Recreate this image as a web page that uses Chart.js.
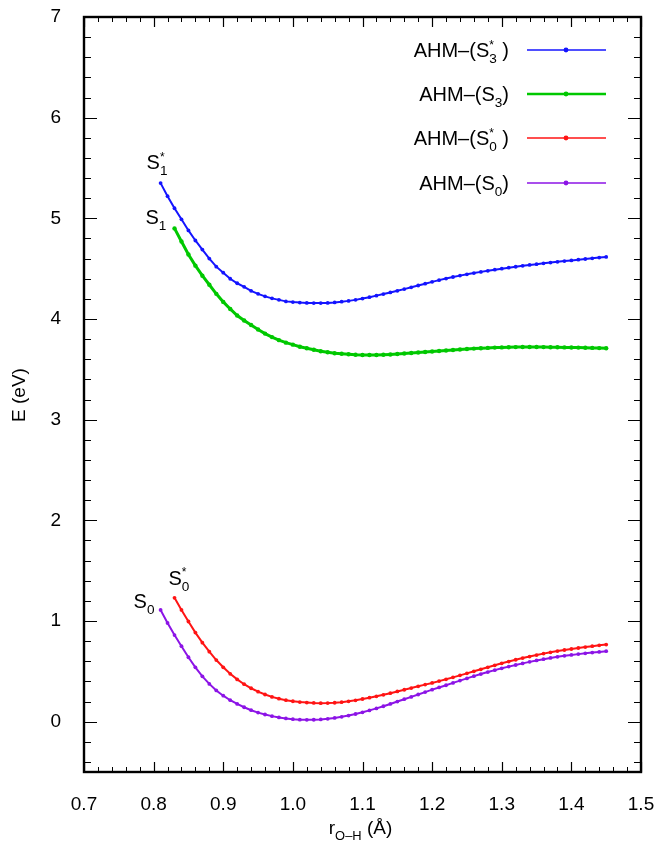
<!DOCTYPE html>
<html>
<head>
<meta charset="utf-8">
<script src="https://cdn.jsdelivr.net/npm/chart.js@4.4.1/dist/chart.umd.min.js"></script>
<style>
html,body{margin:0;padding:0;background:#fff;}
canvas{display:block;}
</style>
</head>
<body>
<canvas id="c" width="658" height="842"></canvas>
<script>
// ---------- DATA ----------
const rOH = [0.81,0.82,0.83,0.84,0.85,0.86,0.87,0.88,0.89,0.90,
             0.91,0.92,0.93,0.94,0.95,0.96,0.97,0.98,0.99,1.00,
             1.01,1.02,1.03,1.04,1.05,1.06,1.07,1.08,1.09,1.10,
             1.11,1.12,1.13,1.14,1.15,1.16,1.17,1.18,1.19,1.20,
             1.21,1.22,1.23,1.24,1.25,1.26,1.27,1.28,1.29,1.30,
             1.31,1.32,1.33,1.34,1.35,1.36,1.37,1.38,1.39,1.40,
             1.41,1.42,1.43,1.44,1.45];

const eS3star = [5.35,5.22,5.10,4.99,4.88,4.78,4.69,4.60,4.52,4.46,
                 4.40,4.355,4.32,4.28,4.25,4.225,4.205,4.19,4.175,4.168,
                 4.163,4.16,4.158,4.158,4.16,4.165,4.172,4.18,4.19,4.203,
                 4.217,4.232,4.248,4.264,4.28,4.297,4.315,4.333,4.351,4.369,
                 4.386,4.402,4.417,4.431,4.444,4.456,4.468,4.479,4.49,4.50,
                 4.51,4.519,4.528,4.537,4.545,4.553,4.561,4.568,4.575,4.582,
                 4.589,4.596,4.603,4.61,4.617];

const eS3 = [null,null,4.90,4.77,4.64,4.53,4.43,4.34,4.25,4.17,
             4.10,4.035,3.985,3.94,3.895,3.855,3.82,3.79,3.765,3.745,
             3.725,3.71,3.695,3.68,3.67,3.66,3.655,3.65,3.645,3.643,
             3.642,3.643,3.645,3.648,3.652,3.657,3.662,3.667,3.672,3.677,
             3.682,3.687,3.692,3.697,3.702,3.706,3.71,3.713,3.716,3.718,
             3.72,3.721,3.722,3.722,3.722,3.721,3.72,3.719,3.718,3.717,
             3.716,3.715,3.713,3.711,3.71];

const eS0star = [null,null,1.23,1.11,0.995,0.885,0.785,0.695,0.612,0.54,
                 0.475,0.42,0.372,0.332,0.298,0.27,0.246,0.228,0.213,0.203,
                 0.195,0.19,0.186,0.184,0.185,0.188,0.194,0.202,0.212,0.225,
                 0.238,0.252,0.267,0.283,0.30,0.317,0.334,0.351,0.368,0.385,
                 0.403,0.421,0.44,0.46,0.48,0.50,0.52,0.54,0.56,0.58,
                 0.597,0.615,0.632,0.647,0.662,0.676,0.689,0.701,0.712,0.722,
                 0.732,0.741,0.75,0.758,0.766];

const eS0 = [1.11,0.98,0.86,0.75,0.64,0.54,0.45,0.375,0.31,0.258,
             0.213,0.176,0.143,0.114,0.09,0.071,0.055,0.042,0.032,0.025,
             0.02,0.018,0.019,0.022,0.028,0.037,0.048,0.061,0.076,0.093,
             0.112,0.132,0.153,0.176,0.20,0.223,0.246,0.27,0.294,0.318,
             0.34,0.362,0.385,0.408,0.43,0.452,0.473,0.493,0.512,0.53,
             0.547,0.563,0.579,0.594,0.608,0.621,0.633,0.644,0.654,0.663,
             0.671,0.679,0.686,0.693,0.70];

const seriesNames  = ['AHM–(S_3^* )', 'AHM–(S_3)', 'AHM–(S_0^* )', 'AHM–(S_0)'];
const curveLabels  = ['S_1^*', 'S_1', 'S_0^*', 'S_0'];
const xTickValues  = [0.7,0.8,0.9,1.0,1.1,1.2,1.3,1.4,1.5];
const yTickValues  = [0,1,2,3,4,5,6,7];
const xTitle = 'r_{O–H} (Å)';
const yTitle = 'E (eV)';

// ---------- STYLE ----------
const colors = ['#1414ff', '#00c800', '#ff1414', '#8c14e6'];
const lineWidths = [2, 3, 2, 2];
const FONT = '"Liberation Sans", Arial, Helvetica, sans-serif';

function toPoints(arr){
  const pts = [];
  for (let i = 0; i < rOH.length; i++) if (arr[i] !== null) pts.push({x: rOH[i], y: arr[i]});
  return pts;
}
const allSeries = [eS3star, eS3, eS0star, eS0];

// rich text: _x subscript, ^x superscript (stacked over preceding subscript)
function parseRich(s){
  const out = []; let i = 0;
  while (i < s.length){
    const c = s[i];
    if (c === '_' || c === '^'){
      let t;
      if (s[i+1] === '{'){ const j = s.indexOf('}', i); t = s.slice(i+2, j); i = j+1; }
      else { t = s[i+1]; i += 2; }
      out.push({t, kind: c === '_' ? 'sub' : 'sup'});
    } else {
      let j = i; while (j < s.length && s[j] !== '_' && s[j] !== '^') j++;
      out.push({t: s.slice(i, j), kind: 'n'}); i = j;
    }
  }
  return out;
}
function richLayout(ctx, s, size){
  const parts = parseRich(s); let x = 0; let subX = null, subW = 0;
  const items = [];
  for (const p of parts){
    let fs = size, dy = 0, px = x;
    if (p.kind === 'sub'){ fs = size*0.68; dy = size*0.30; }
    if (p.kind === 'sup'){ fs = size*0.6; dy = -size*0.42; }
    ctx.font = fs + 'px ' + FONT;
    const w = ctx.measureText(p.t).width;
    if (p.kind === 'sup' && subX !== null){
      px = subX; items.push({t:p.t, fs, dy, x:px});
      x = subX + Math.max(subW, w); subX = null;
    } else {
      items.push({t:p.t, fs, dy, x:px});
      if (p.kind === 'sub'){ subX = px; subW = w; } else subX = null;
      x = px + w;
    }
  }
  return {items, width: x};
}
function drawRich(ctx, s, x, y, size, align){
  const L = richLayout(ctx, s, size);
  let x0 = x;
  if (align === 'right') x0 = x - L.width; else if (align === 'center') x0 = x - L.width/2;
  ctx.fillStyle = '#000'; ctx.textBaseline = 'alphabetic'; ctx.textAlign = 'left';
  for (const it of L.items){
    ctx.font = it.fs + 'px ' + FONT;
    ctx.fillText(it.t, x0 + it.x, y + it.dy);
  }
}

const framePlugin = {
  id: 'frame',
  afterDatasetsDraw(chart){
    const ctx = chart.ctx, a = chart.chartArea, xs = chart.scales.x, ys = chart.scales.y;
    ctx.save();
    ctx.strokeStyle = '#000';
    // minor ticks
    ctx.lineWidth = 1;
    ctx.beginPath();
    for (let k = 0; k <= 40; k++){
      const v = 0.7 + k*0.02;
      if (k % 5 === 0) continue;
      const p = Math.round(xs.getPixelForValue(v)) + 0.5;
      ctx.moveTo(p, a.bottom); ctx.lineTo(p, a.bottom - 5);
      ctx.moveTo(p, a.top); ctx.lineTo(p, a.top + 5);
    }
    for (let k = 0; k <= 37; k++){
      const v = -0.4 + k*0.2;
      if (Math.abs(v - Math.round(v)) < 1e-6) continue;
      const p = Math.round(ys.getPixelForValue(v)) + 0.5;
      ctx.moveTo(a.left, p); ctx.lineTo(a.left + 7, p);
      ctx.moveTo(a.right, p); ctx.lineTo(a.right - 7, p);
    }
    ctx.stroke();
    // major ticks
    ctx.lineWidth = 1.2;
    ctx.beginPath();
    for (const v of xTickValues){
      const p = Math.round(xs.getPixelForValue(v)) + 0.5;
      ctx.moveTo(p, a.bottom); ctx.lineTo(p, a.bottom - 10);
      ctx.moveTo(p, a.top); ctx.lineTo(p, a.top + 10);
    }
    for (const v of yTickValues){
      const p = Math.round(ys.getPixelForValue(v)) + 0.5;
      ctx.moveTo(a.left, p); ctx.lineTo(a.left + 13, p);
      ctx.moveTo(a.right, p); ctx.lineTo(a.right - 13, p);
    }
    ctx.stroke();
    // frame
    ctx.lineWidth = 2.4;
    ctx.strokeRect(a.left, a.top, a.right - a.left, a.bottom - a.top);

    // legend
    const legY = [50, 94, 138, 183];
    for (let i = 0; i < seriesNames.length; i++){
      drawRich(ctx, seriesNames[i], 509, legY[i] + 7, 20, 'right');
      ctx.strokeStyle = colors[i]; ctx.lineWidth = lineWidths[i] - 0.4;
      ctx.beginPath(); ctx.moveTo(527, legY[i]); ctx.lineTo(606, legY[i]); ctx.stroke();
      ctx.fillStyle = colors[i];
      ctx.beginPath(); ctx.arc(566, legY[i], 2.4, 0, Math.PI*2); ctx.fill();
    }

    // curve labels anchored to first point of each curve
    const offs = [[-14,-14],[-29,-4],[-6,-13],[-27,-2]];
    for (let i = 0; i < allSeries.length; i++){
      const pts = toPoints(allSeries[i]);
      const px = xs.getPixelForValue(pts[0].x), py = ys.getPixelForValue(pts[0].y);
      drawRich(ctx, curveLabels[i], px + offs[i][0], py + offs[i][1], 20, 'left');
    }

    // axis titles
    drawRich(ctx, xTitle, (a.left + a.right)/2 - 2, 834, 19, 'center');
    ctx.save();
    ctx.translate(25, 395); ctx.rotate(-Math.PI/2);
    drawRich(ctx, yTitle, 0, 0, 19, 'center');
    ctx.restore();
    ctx.restore();
  }
};

function zeroPad(scale){
  scale.paddingLeft = 0; scale.paddingRight = 0; scale.paddingTop = 0; scale.paddingBottom = 0;
}

Chart.defaults.font.family = FONT;
new Chart(document.getElementById('c'), {
  type: 'line',
  data: {
    datasets: allSeries.map((s, i) => ({
      label: seriesNames[i],
      data: toPoints(s),
      borderColor: colors[i],
      backgroundColor: colors[i],
      borderWidth: lineWidths[i],
      pointRadius: i === 1 ? 2.2 : 1.9,
      pointBorderWidth: 0,
      pointBackgroundColor: colors[i],
      tension: 0,
      fill: false
    })).reverse()
  },
  options: {
    responsive: false,
    animation: false,
    events: [],
    layout: { padding: { top: 17, right: 17, left: 0, bottom: 0 }, autoPadding: false },
    plugins: { legend: { display: false }, tooltip: { enabled: false } },
    scales: {
      x: {
        type: 'linear', min: 0.7, max: 1.5,
        afterBuildTicks(scale){ scale.ticks = xTickValues.map(v => ({value: v})); },
        afterFit(scale){ scale.height = 70; zeroPad(scale); },
        grid: { display: false }, border: { display: false },
        ticks: { color: '#000', font: { size: 19 }, padding: 13, maxRotation: 0, autoSkip: false,
                 callback: v => Number(v).toFixed(1) }
      },
      y: {
        type: 'linear', min: -0.5, max: 7,
        afterBuildTicks(scale){ scale.ticks = yTickValues.map(v => ({value: v})); },
        afterFit(scale){ scale.width = 84; zeroPad(scale); },
        grid: { display: false }, border: { display: false },
        ticks: { color: '#000', font: { size: 19 }, padding: 15, autoSkip: false,
                 callback: v => String(v) }
      }
    }
  },
  plugins: [framePlugin]
});
</script>
</body>
</html>
